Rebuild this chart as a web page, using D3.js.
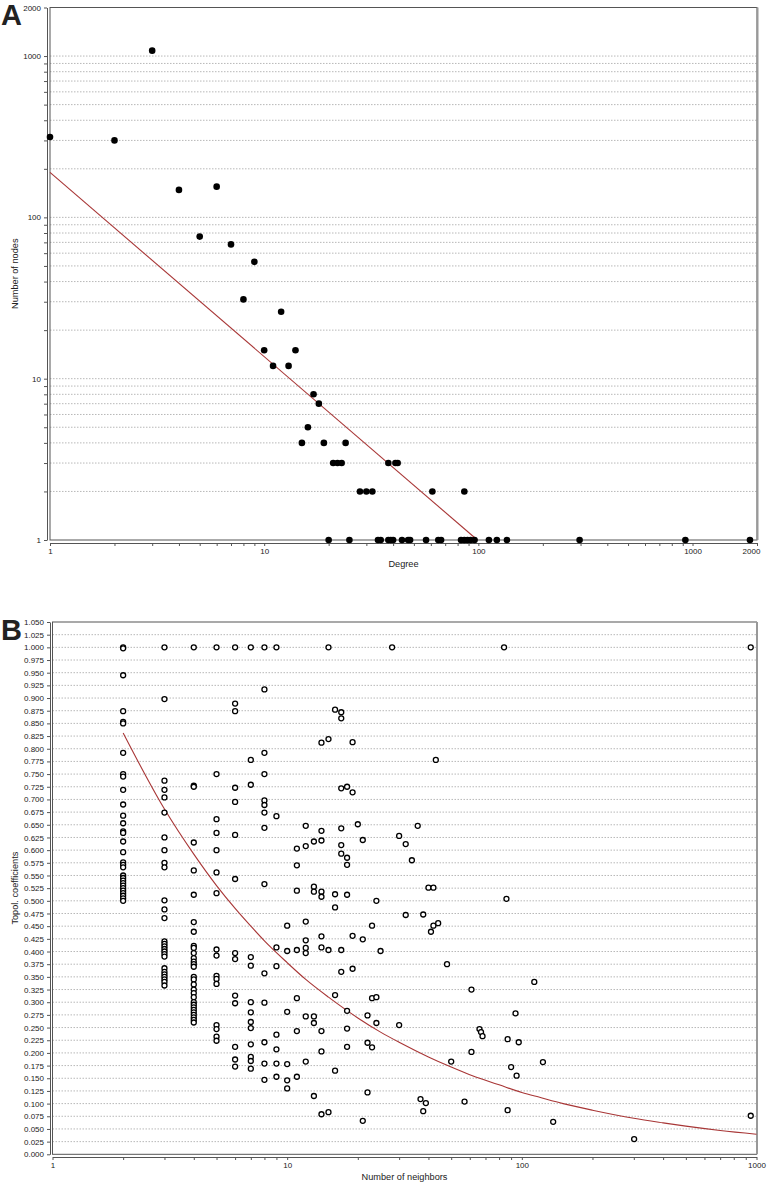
<!DOCTYPE html>
<html>
<head>
<meta charset="utf-8">
<script src="https://cdn.jsdelivr.net/npm/d3@7"></script>
<style>
  html, body { margin: 0; padding: 0; background: #fff; }
  svg { display: block; }
  text { font-family: "Liberation Sans", Arial, Helvetica, sans-serif; fill: #222; }
</style>
</head>
<body>
<svg id="chart" width="767" height="1184"></svg>
<script>
// ---------------- Panel A data (degree distribution) ----------------
const aDegree = [1, 2, 3, 4, 5, 6, 7, 8, 9, 10, 11, 12, 13, 14, 15, 16, 17, 18, 19,
  21, 22, 23, 24, 28, 30, 32, 38, 41, 42, 61, 86,
  20, 25, 34, 35, 38, 39, 40, 44, 47, 48, 57, 65, 67, 83, 86, 89, 92, 96, 112, 122, 136, 297, 926, 1854];
const aNodes = [315, 300, 1080, 148, 76, 155, 68, 31, 53, 15, 12, 26, 12, 15, 4, 5, 8, 7, 4,
  3, 3, 3, 4, 2, 2, 2, 3, 3, 3, 2, 2,
  1, 1, 1, 1, 1, 1, 1, 1, 1, 1, 1, 1, 1, 1, 1, 1, 1, 1, 1, 1, 1, 1, 1, 1];
const aFitDegree = [1, 99];
const aFitNodes = [190, 1];
const aTickLabels = [1, 10, 100, 1000, 2000];
const aTitleX = "Degree";
const aTitleY = "Number of nodes";

// ---------------- Panel B data (topological coefficients) ----------------
const bNeighborCounts = [2, 3, 4, 5, 6, 7, 8, 9, 10, 11, 12, 13, 14, 15, 16, 17, 18, 19, 20, 21, 22, 23, 24, 25,
  28, 30, 32, 34, 36, 37, 38, 39, 40, 41, 42, 43, 44, 48, 50, 57, 61, 66, 67, 68, 84, 86, 87, 90, 94, 95, 97,
  113, 123, 136, 301, 945];
const bCoefficients = [
  [1.000, 0.998, 0.945, 0.874, 0.853, 0.850, 0.792, 0.750, 0.745, 0.719, 0.690, 0.668, 0.653, 0.637, 0.634, 0.617, 0.596, 0.576, 0.571, 0.566, 0.550, 0.545, 0.540, 0.535, 0.530, 0.525, 0.520, 0.515, 0.510, 0.505, 0.500],
  [1.000, 0.898, 0.737, 0.719, 0.704, 0.674, 0.625, 0.600, 0.575, 0.566, 0.501, 0.483, 0.466, 0.420, 0.415, 0.410, 0.405, 0.400, 0.395, 0.390, 0.367, 0.360, 0.355, 0.350, 0.345, 0.340, 0.333],
  [1.000, 0.727, 0.725, 0.615, 0.560, 0.512, 0.458, 0.439, 0.411, 0.407, 0.397, 0.387, 0.380, 0.375, 0.370, 0.350, 0.345, 0.335, 0.325, 0.318, 0.310, 0.300, 0.295, 0.290, 0.285, 0.280, 0.275, 0.270, 0.265, 0.260],
  [1.000, 0.750, 0.661, 0.634, 0.600, 0.556, 0.515, 0.404, 0.392, 0.352, 0.346, 0.336, 0.255, 0.247, 0.232, 0.224],
  [1.000, 0.889, 0.874, 0.723, 0.695, 0.630, 0.543, 0.397, 0.385, 0.313, 0.298, 0.212, 0.187, 0.173],
  [1.000, 0.778, 0.729, 0.389, 0.372, 0.300, 0.280, 0.261, 0.249, 0.217, 0.192, 0.184, 0.169],
  [1.000, 0.917, 0.792, 0.750, 0.698, 0.689, 0.674, 0.644, 0.533, 0.357, 0.299, 0.221, 0.179, 0.147],
  [1.000, 0.667, 0.408, 0.371, 0.236, 0.207, 0.179, 0.153],
  [0.451, 0.401, 0.281, 0.178, 0.146, 0.130],
  [0.603, 0.570, 0.520, 0.403, 0.308, 0.243, 0.153],
  [0.648, 0.608, 0.459, 0.422, 0.407, 0.397, 0.272, 0.183],
  [0.617, 0.528, 0.518, 0.272, 0.259, 0.115],
  [0.812, 0.638, 0.619, 0.518, 0.508, 0.430, 0.408, 0.243, 0.203, 0.079],
  [1.000, 0.819, 0.403, 0.083],
  [0.877, 0.513, 0.487, 0.314, 0.165],
  [0.872, 0.860, 0.722, 0.643, 0.610, 0.593, 0.403, 0.360],
  [0.725, 0.585, 0.571, 0.512, 0.283, 0.248, 0.212],
  [0.813, 0.714, 0.431, 0.366],
  [0.651],
  [0.620, 0.424, 0.066],
  [0.274, 0.220, 0.122],
  [0.451, 0.308, 0.211],
  [0.500, 0.310, 0.259],
  [0.401],
  [1.000],
  [0.628, 0.255],
  [0.612, 0.472],
  [0.580],
  [0.648],
  [0.109],
  [0.473, 0.085],
  [0.101],
  [0.526],
  [0.439],
  [0.526, 0.451],
  [0.778],
  [0.456],
  [0.375],
  [0.183],
  [0.104],
  [0.325, 0.202],
  [0.247],
  [0.241],
  [0.233],
  [1.000],
  [0.504],
  [0.227, 0.087],
  [0.172],
  [0.278],
  [0.155],
  [0.221],
  [0.340],
  [0.182],
  [0.064],
  [0.030],
  [1.000, 0.076]
];
const bFitNeighbors = [2, 3, 4, 5, 6, 7, 8, 10, 12, 15, 20, 25, 30, 40, 50, 60, 70, 80, 100, 120, 150, 200, 300, 400, 500, 700, 1000];
const bFitCoefficients = [0.831, 0.681, 0.592, 0.530, 0.485, 0.450, 0.421, 0.378, 0.345, 0.310, 0.269, 0.241, 0.221, 0.192, 0.172, 0.157, 0.146, 0.137, 0.122, 0.112, 0.100, 0.087, 0.071, 0.062, 0.0555, 0.047, 0.0396];
const bTickLabels = [1, 10, 100, 1000];
const bTitleX = "Number of neighbors";
const bTitleY = "Topol. coefficients";

// ---------------- helpers ----------------
const svg = d3.select("#chart");
const GRID = "#b8b8b8";
const AXIS = "#555";
const FIT = "#a83636";

function logTicks(maxExp, extra) {
  const t = [];
  for (let e = 0; e <= maxExp; e++) {
    for (let m = 1; m <= 9; m++) t.push(m * Math.pow(10, e));
  }
  extra.forEach(v => { if (!t.includes(v)) t.push(v); });
  return t;
}

function styleAxis(g, fs) {
  g.selectAll("path.domain").attr("stroke", AXIS).attr("stroke-width", 1);
  g.selectAll(".tick line").attr("stroke", AXIS);
  g.selectAll(".tick text").attr("fill", "#222").style("font-size", fs + "px")
    .style("font-family", '"Liberation Sans", Arial, sans-serif');
}

// ================= PANEL A =================
const xA = d3.scaleLog().domain([1, 2000]).range([50, 757]);
const yA = d3.scaleLog().domain([1, 2000]).range([540, 7.5]);
const aTicks = logTicks(3, [2000]).filter(v => v <= 2000);

const gA = svg.append("g");
gA.append("g").selectAll("line")
  .data(aTicks.filter(v => v > 1 && v < 2000))
  .join("line")
  .attr("x1", xA.range()[0]).attr("x2", xA.range()[1])
  .attr("y1", d => yA(d)).attr("y2", d => yA(d))
  .attr("stroke", GRID).attr("stroke-width", 1).attr("stroke-dasharray", "1.5,1.5");

gA.append("rect")
  .attr("x", xA.range()[0]).attr("y", yA.range()[1])
  .attr("width", xA.range()[1] - xA.range()[0])
  .attr("height", yA.range()[0] - yA.range()[1])
  .attr("fill", "none").attr("stroke", AXIS).attr("stroke-width", 1);
gA.append("line")
  .attr("x1", xA.range()[1] + 0.5).attr("x2", xA.range()[1] + 0.5)
  .attr("y1", yA.range()[1]).attr("y2", yA.range()[0])
  .attr("stroke", "#999").attr("stroke-width", 2);

const aLabelFmt = v => aTickLabels.includes(v) ? String(v) : "";
const axAy = gA.append("g").attr("transform", "translate(47,0)")
  .call(d3.axisLeft(yA).tickValues(aTicks).tickFormat(aLabelFmt).tickSize(3).tickSizeOuter(0).tickPadding(3));
styleAxis(axAy, 8);
const axAx = gA.append("g").attr("transform", "translate(0,543)")
  .call(d3.axisBottom(xA).tickValues(aTicks).tickFormat(aLabelFmt).tickSize(3).tickSizeOuter(0).tickPadding(2));
styleAxis(axAx, 8);
axAx.selectAll(".tick text").filter(d => d === 2000).attr("dx", -6);

gA.append("path")
  .datum(aFitDegree.map((d, i) => [d, aFitNodes[i]]))
  .attr("d", d3.line().x(d => xA(d[0])).y(d => yA(d[1])))
  .attr("fill", "none").attr("stroke", FIT).attr("stroke-width", 1.1);

gA.append("g").selectAll("circle")
  .data(aDegree.map((d, i) => [d, aNodes[i]]))
  .join("circle")
  .attr("cx", d => xA(d[0])).attr("cy", d => yA(d[1]))
  .attr("r", 3.3).attr("fill", "#000");

gA.append("text").attr("x", (xA.range()[0] + xA.range()[1]) / 2).attr("y", 567)
  .attr("text-anchor", "middle").style("font-size", "9.2px").text(aTitleX);
gA.append("text")
  .attr("transform", `translate(18,${(yA.range()[0] + yA.range()[1]) / 2}) rotate(-90)`)
  .attr("text-anchor", "middle").style("font-size", "9.2px").text(aTitleY);
gA.append("text").attr("x", 1).attr("y", 25)
  .style("font-size", "29px").style("font-weight", "bold").attr("fill", "#000").text("A");

// ================= PANEL B =================
const xB = d3.scaleLog().domain([1, 1000]).range([52.5, 756.5]);
const yB = d3.scaleLinear().domain([0, 1.05]).range([1154.3, 622]);
const bYTicks = d3.range(0, 43).map(i => +(i * 0.025).toFixed(3));
const bXTicks = logTicks(2, [1000]).filter(v => v <= 1000);

const gB = svg.append("g");
gB.append("g").selectAll("line")
  .data(bYTicks.filter(v => v > 0 && v < 1.05))
  .join("line")
  .attr("x1", xB.range()[0]).attr("x2", xB.range()[1])
  .attr("y1", d => yB(d)).attr("y2", d => yB(d))
  .attr("stroke", GRID).attr("stroke-width", 1).attr("stroke-dasharray", "1.5,1.5");

gB.append("rect")
  .attr("x", xB.range()[0]).attr("y", yB.range()[1])
  .attr("width", xB.range()[1] - xB.range()[0])
  .attr("height", yB.range()[0] - yB.range()[1])
  .attr("fill", "none").attr("stroke", AXIS).attr("stroke-width", 1);
gB.append("line")
  .attr("x1", xB.range()[1] + 0.5).attr("x2", xB.range()[1] + 0.5)
  .attr("y1", yB.range()[1]).attr("y2", yB.range()[0])
  .attr("stroke", "#999").attr("stroke-width", 2);

const axBy = gB.append("g").attr("transform", "translate(50,0)")
  .call(d3.axisLeft(yB).tickValues(bYTicks).tickFormat(d3.format(".3f")).tickSize(3).tickSizeOuter(0).tickPadding(3));
styleAxis(axBy, 8);
const axBx = gB.append("g").attr("transform", "translate(0,1157)")
  .call(d3.axisBottom(xB).tickValues(bXTicks).tickFormat(v => bTickLabels.includes(v) ? String(v) : "")
    .tickSize(3).tickSizeOuter(0).tickPadding(2));
styleAxis(axBx, 8);

gB.append("path")
  .datum(bFitNeighbors.map((d, i) => [d, bFitCoefficients[i]]))
  .attr("d", d3.line().curve(d3.curveMonotoneX).x(d => xB(d[0])).y(d => yB(d[1])))
  .attr("fill", "none").attr("stroke", FIT).attr("stroke-width", 1.1);

const bPoints = [];
bNeighborCounts.forEach((n, i) => bCoefficients[i].forEach(c => bPoints.push([n, c])));
gB.append("g").selectAll("circle")
  .data(bPoints)
  .join("circle")
  .attr("cx", d => xB(d[0])).attr("cy", d => yB(d[1]))
  .attr("r", 2.5).attr("fill", "#fff").attr("stroke", "#000").attr("stroke-width", 1.3);

gB.append("text").attr("x", (xB.range()[0] + xB.range()[1]) / 2).attr("y", 1180)
  .attr("text-anchor", "middle").style("font-size", "9.2px").text(bTitleX);
gB.append("text")
  .attr("transform", `translate(18,${(yB.range()[0] + yB.range()[1]) / 2}) rotate(-90)`)
  .attr("text-anchor", "middle").style("font-size", "9.2px").text(bTitleY);
gB.append("text").attr("x", 1).attr("y", 640)
  .style("font-size", "29px").style("font-weight", "bold").attr("fill", "#000").text("B");
</script>
</body>
</html>
